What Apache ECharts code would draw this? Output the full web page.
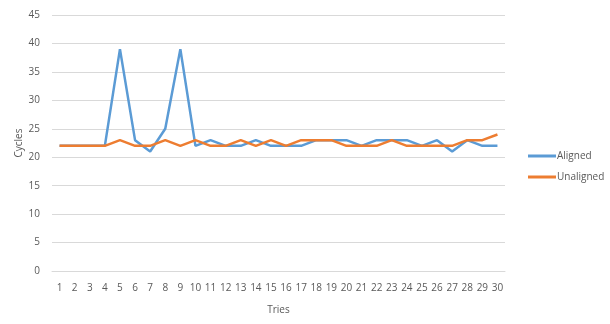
<!DOCTYPE html>
<html>
<head>
<meta charset="utf-8">
<script src="https://cdn.jsdelivr.net/npm/echarts@6/dist/echarts.min.js"></script>
<style>html,body{margin:0;padding:0;background:#fff}#c{width:610px;height:324px}</style>
</head>
<body>
<div id="c"></div>
<script>
const categories = ["1","2","3","4","5","6","7","8","9","10","11","12","13","14","15","16","17","18","19","20","21","22","23","24","25","26","27","28","29","30"];
const aligned = [22,22,22,22,39,23,21,25,39,22,23,22,22,23,22,22,22,23,23,23,22,23,23,23,22,23,21,23,22,22];
const unaligned = [22,22,22,22,23,22,22,23,22,23,22,22,23,22,23,22,23,23,23,22,22,22,23,22,22,22,22,23,23,24];
const yTicks = {min: 0, max: 45, interval: 5};

const font = "'Open Sans', 'Liberation Sans', sans-serif";
const txt = '#595959';
const chart = echarts.init(document.getElementById('c'), null, {renderer: 'canvas'});
chart.setOption({
  animation: false,
  backgroundColor: '#fff',
  grid: {left: 52, right: 105, top: 15, bottom: 53},
  legend: {
    orient: 'vertical', left: 523, top: 146, itemGap: 11,
    icon: 'rect', itemWidth: 28, itemHeight: 3,
    textStyle: {color: txt, fontFamily: font, fontSize: 10, padding: [0, 0, 0, -4]},
    data: ['Aligned', 'Unaligned']
  },
  xAxis: {
    type: 'category', data: categories, boundaryGap: true,
    name: 'Tries', nameLocation: 'middle', nameGap: 34, nameMoveOverlap: false,
    nameTextStyle: {color: txt, fontFamily: font, fontSize: 10},
    axisLine: {show: true, lineStyle: {color: '#d9d9d9'}},
    axisTick: {show: false},
    axisLabel: {color: txt, fontFamily: font, fontSize: 10, interval: 0, margin: 12}
  },
  yAxis: {
    type: 'value', min: yTicks.min, max: yTicks.max, interval: yTicks.interval,
    name: 'Cycles', nameLocation: 'middle', nameGap: 28, nameRotate: 90, nameMoveOverlap: false,
    nameTextStyle: {color: txt, fontFamily: font, fontSize: 10},
    axisLine: {show: false}, axisTick: {show: false},
    axisLabel: {color: txt, fontFamily: font, fontSize: 10, margin: 12},
    splitLine: {lineStyle: {color: '#d9d9d9', width: 1}}
  },
  series: [
    {name: 'Aligned', type: 'line', data: aligned, symbol: 'none',
     lineStyle: {color: '#5B9BD5', width: 2.5}, itemStyle: {color: '#5B9BD5'}},
    {name: 'Unaligned', type: 'line', data: unaligned, symbol: 'none',
     lineStyle: {color: '#ED7D31', width: 2.5}, itemStyle: {color: '#ED7D31'}}
  ]
});
</script>
</body>
</html>
